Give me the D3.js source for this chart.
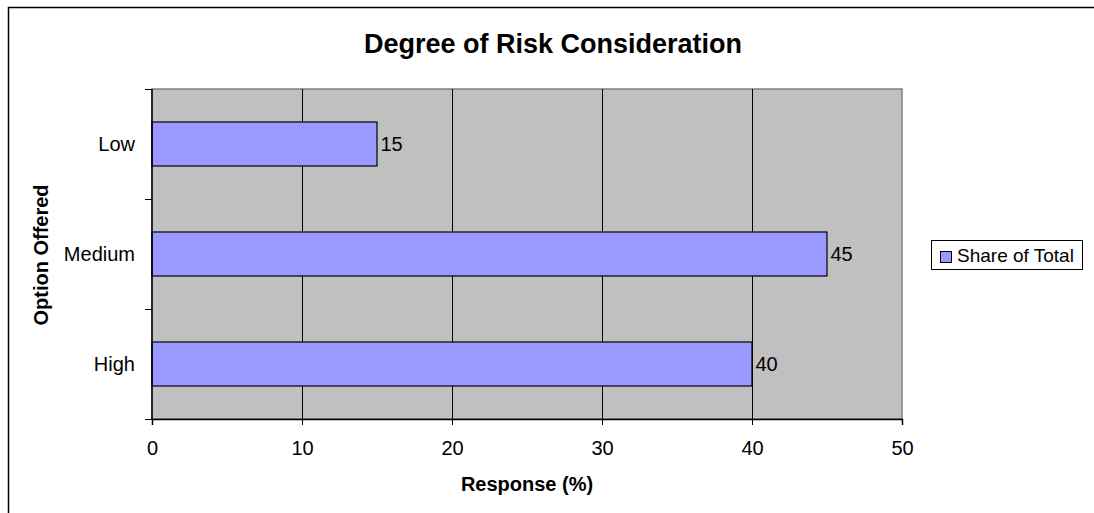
<!DOCTYPE html>
<html>
<head>
<meta charset="utf-8">
<script src="https://cdn.jsdelivr.net/npm/d3@7"></script>
<style>
  body { margin: 0; background: #fff; }
  svg { font-family: "Liberation Sans", Arial, sans-serif; }
</style>
</head>
<body>
<div id="chart"></div>
<script>
var categories = ["Low", "Medium", "High"]
var values = [15, 45, 40]
var xTicks = [0, 10, 20, 30, 40, 50]
var seriesName = "Share of Total"

var width = 1094
var height = 513
var plot = {left: 152, top: 89, right: 902, bottom: 419}

var svg = d3.select("#chart")
  .append("svg")
  .attr("width", width)
  .attr("height", height)

// outer chart frame (right/bottom run off the page)
svg.append("rect")
  .attr("x", 8.5).attr("y", 7.5)
  .attr("width", 1100).attr("height", 520)
  .attr("fill", "#fff")
  .attr("stroke", "#000")
  .attr("stroke-width", 1.5)

svg.append("text")
  .attr("x", 553).attr("y", 53)
  .attr("text-anchor", "middle")
  .style("font-size", "27px")
  .style("font-weight", "bold")
  .text("Degree of Risk Consideration")

var x = d3.scaleLinear()
  .domain([0, 50])
  .range([plot.left, plot.right])

var y = d3.scaleBand()
  .domain(categories)
  .range([plot.top, plot.bottom])
  .paddingInner(0.6)
  .paddingOuter(0.3)

// plot area
svg.append("rect")
  .attr("x", plot.left).attr("y", plot.top)
  .attr("width", plot.right - plot.left)
  .attr("height", plot.bottom - plot.top)
  .attr("fill", "#c0c0c0")
  .attr("stroke", "#808080")
  .attr("stroke-width", 1.5)

// gridlines
svg.selectAll(".grid")
  .data(xTicks.slice(1, -1))
  .enter()
  .append("line")
  .attr("x1", function(d) { return Math.round(x(d)) + 0.5 })
  .attr("x2", function(d) { return Math.round(x(d)) + 0.5 })
  .attr("y1", plot.top)
  .attr("y2", plot.bottom)
  .attr("stroke", "#000")
  .attr("stroke-width", 1)

// bars
svg.selectAll(".bar")
  .data(values)
  .enter()
  .append("rect")
  .attr("x", x(0))
  .attr("y", function(d, i) { return y(categories[i]) })
  .attr("width", function(d) { return x(d) - x(0) })
  .attr("height", y.bandwidth())
  .attr("fill", "#9999ff")
  .attr("stroke", "#000")
  .attr("stroke-width", 1.2)

svg.selectAll(".val")
  .data(values)
  .enter()
  .append("text")
  .attr("x", function(d) { return x(d) + 3.5 })
  .attr("y", function(d, i) { return y(categories[i]) + y.bandwidth() / 2 + 7 })
  .style("font-size", "20px")
  .text(function(d) { return d })

// x axis
var xAxis = svg.append("g")
  .attr("transform", "translate(0," + plot.bottom + ")")
  .call(d3.axisBottom(x).tickValues(xTicks).tickSize(6).tickPadding(16))
xAxis.select(".domain").attr("stroke", "#000").attr("stroke-width", 1.5)
xAxis.selectAll("line").attr("stroke", "#000")
xAxis.selectAll("text").style("font-size", "20px").attr("fill", "#000")
  .style("font-family", "'Liberation Sans', Arial, sans-serif")

// y axis: ticks sit on band boundaries
var yLine = svg.append("g")
yLine.append("line")
  .attr("x1", plot.left).attr("x2", plot.left)
  .attr("y1", plot.top).attr("y2", plot.bottom)
  .attr("stroke", "#000").attr("stroke-width", 1.5)
var bounds = categories.map(function(c) { return y(c) - y.step() * y.paddingInner() / 2 })
bounds.push(plot.bottom)
yLine.selectAll(".ytick")
  .data(bounds)
  .enter()
  .append("line")
  .attr("x1", plot.left - 7).attr("x2", plot.left)
  .attr("y1", function(d) { return Math.round(d) + 0.5 })
  .attr("y2", function(d) { return Math.round(d) + 0.5 })
  .attr("stroke", "#000")

svg.selectAll(".cat")
  .data(categories)
  .enter()
  .append("text")
  .attr("x", 135)
  .attr("y", function(d) { return y(d) + y.bandwidth() / 2 + 7 })
  .attr("text-anchor", "end")
  .style("font-size", "20px")
  .text(function(d) { return d })

// axis titles
svg.append("text")
  .attr("x", 527).attr("y", 491)
  .attr("text-anchor", "middle")
  .style("font-size", "20px")
  .style("font-weight", "bold")
  .text("Response (%)")

svg.append("text")
  .attr("transform", "translate(48,255) rotate(-90)")
  .attr("text-anchor", "middle")
  .style("font-size", "20px")
  .style("font-weight", "bold")
  .text("Option Offered")

// legend
var legend = svg.append("g")
legend.append("rect")
  .attr("x", 931.5).attr("y", 240.5)
  .attr("width", 151).attr("height", 29)
  .attr("fill", "#fff")
  .attr("stroke", "#000")
legend.append("rect")
  .attr("x", 940.5).attr("y", 251.5)
  .attr("width", 11).attr("height", 11)
  .attr("fill", "#9999ff")
  .attr("stroke", "#000")
legend.append("text")
  .attr("x", 957).attr("y", 262)
  .style("font-size", "19px")
  .text(seriesName)
</script>
</body>
</html>
